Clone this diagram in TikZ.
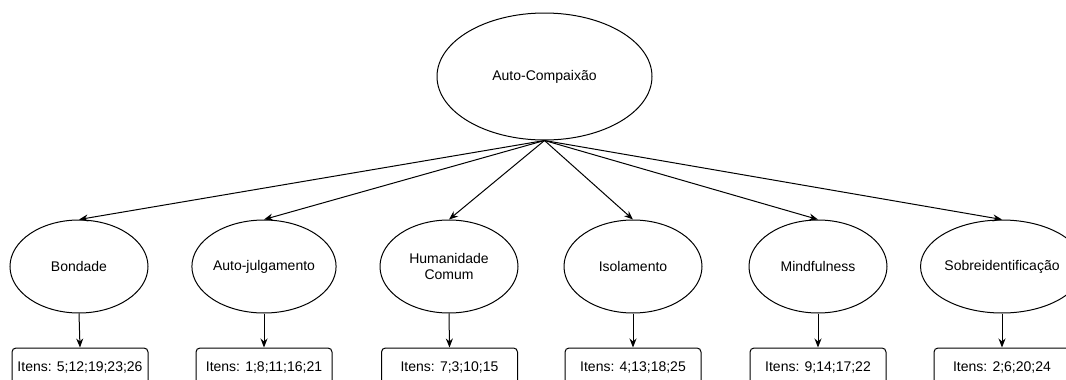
\documentclass[tikz,border=0pt]{standalone}
\usepackage{fontspec}
\setmainfont{Liberation Sans}
\usetikzlibrary{shapes.geometric,arrows.meta}
\tikzset{
  factor/.style={ellipse,draw,line width=1pt,minimum width=138pt,minimum height=93pt,inner sep=0pt,align=center,font=\fontsize{14pt}{16pt}\selectfont},
  itembox/.style={draw,line width=1pt,rounded corners=4pt,minimum width=136pt,minimum height=40pt,inner sep=0pt,font=\fontsize{14pt}{16pt}\selectfont},
  link/.style={line width=1pt,-{Stealth[length=9pt,width=7pt]}}
}
\begin{document}
\begin{tikzpicture}[x=1pt,y=-1pt]
\useasboundingbox (0,0) rectangle (1066,380);
\fill[white] (0,0) rectangle (1066,380);
\clip (0,0) rectangle (1066,380);
\node[ellipse,draw,line width=1pt,minimum width=215pt,minimum height=127pt,inner sep=0pt,font=\fontsize{14pt}{16pt}\selectfont] (top) at (544.5,76.5) {Auto-Compaixão};
\node[factor] (f1) at (79,266.5) {Bondade};
\node[factor] (f2) at (264,266.5) {Auto-julgamento};
\node[factor] (f3) at (449,266.5) {Humanidade\\Comum};
\node[factor] (f4) at (633,266.5) {Isolamento};
\node[factor] (f5) at (818,266.5) {Mindfulness};
\node[factor] (f6) at (1002,266.5) {Sobreidentificação};
\node[itembox] (b1) at (80,368) {Itens: 5;12;19;23;26};
\node[itembox] (b2) at (264,368) {Itens: 1;8;11;16;21};
\node[itembox] (b3) at (449.5,368) {Itens: 7;3;10;15};
\node[itembox] (b4) at (633,368) {Itens: 4;13;18;25};
\node[itembox] (b5) at (818,368) {Itens: 9;14;17;22};
\node[itembox] (b6) at (1002,368) {Itens: 2;6;20;24};
\foreach \i in {1,...,6}{
  \draw[link] (top.south) -- (f\i.north);
  \draw[link] (f\i.south) -- (b\i.north);
}
\end{tikzpicture}
\end{document}
